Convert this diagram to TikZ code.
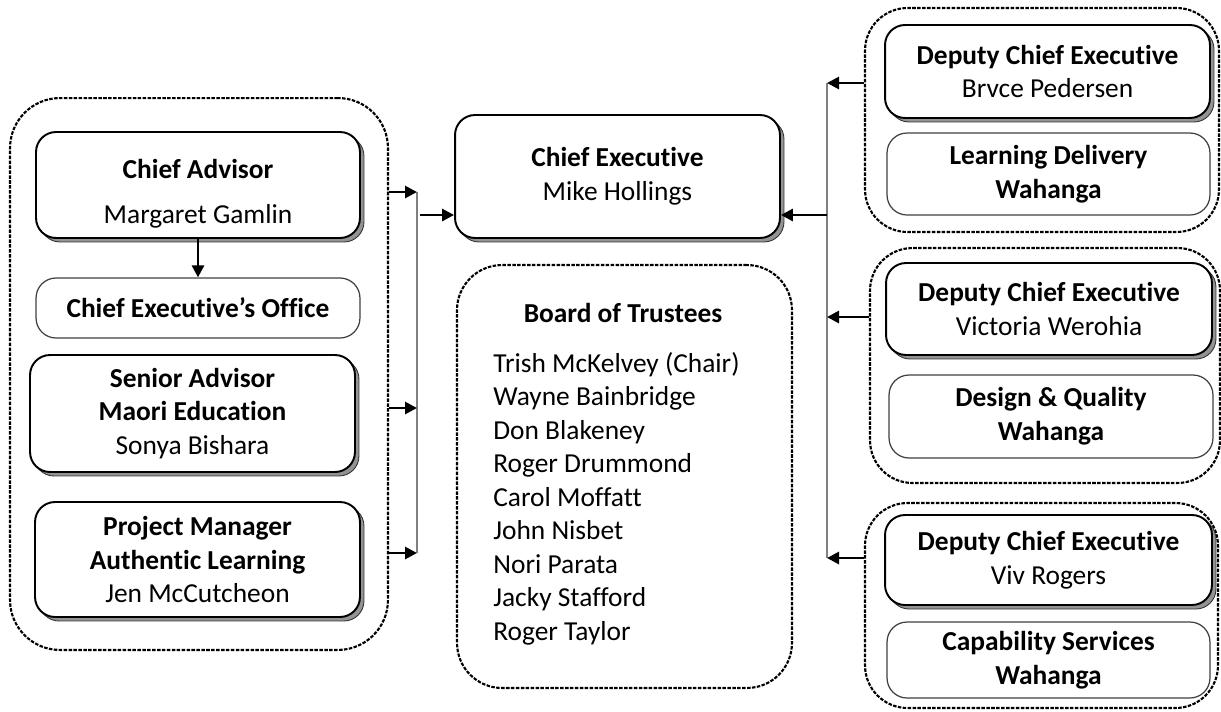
\documentclass[tikz,border=0pt]{standalone}
\usepackage{fontspec}
\setmainfont{Carlito}[Ligatures={TeX,NoCommon}]
\usepackage{tikz}
\usetikzlibrary{arrows.meta}
\usetikzlibrary{shadows}

\begin{document}
\begin{tikzpicture}[x=0.02cm, y=-0.02cm,
  every node/.style={font=\fontsize{15.6}{19.3}\selectfont},
  grp/.style={draw, dash pattern=on 2pt off 0.8pt, line width=1.2pt, rounded corners=0.85cm},
  box/.style={draw, line width=1.1pt, rounded corners=0.4cm, fill=white, align=center, inner sep=0pt,
    drop shadow={shadow xshift=0.08cm, shadow yshift=-0.08cm, fill=gray!85, draw=black!80, line width=0.5pt, opacity=1}},
  unit/.style={draw=black!75, line width=0.7pt, rounded corners=0.4cm, fill=white, align=center, inner sep=0pt},
  arr/.style={-{Triangle[length=2.4mm,width=2.4mm]}, line width=1.6pt},
  bus/.style={draw=gray, line width=1.1pt}]

\useasboundingbox (0,0) rectangle (1221,711);

% dashed groups
\node[grp, minimum width=7.56cm, minimum height=11.04cm, rounded corners=1cm] (advgrp) at (199,374) {};
\node[grp, minimum width=6.7cm, minimum height=8.46cm, rounded corners=0.9cm] (board) at (624.5,476.5) {};
\node[grp, minimum width=7.08cm, minimum height=4.48cm] (dcegrpA) at (1042,120) {};
\node[grp, minimum width=7cm, minimum height=4.7cm] (dcegrpB) at (1045,365.5) {};
\node[grp, minimum width=7.06cm, minimum height=4.1cm] (dcegrpC) at (1041.5,605.5) {};

% left side
\node[box, minimum width=6.48cm, minimum height=2.12cm] (advisor) at (198,185)%
{\rule{0pt}{21pt}\textbf{Chief Advisor}\\[6pt] Margaret Gamlin};
\node[unit, minimum width=6.48cm, minimum height=1.2cm] (office) at (198,308)%
{\textbf{Chief Executive’s Office}};
\node[box, minimum width=6.5cm, minimum height=2.34cm] (senior) at (192.5,413.5)%
{\textbf{Senior Advisor}\\ \textbf{Maori Education}\\ Sonya Bishara};
\node[box, minimum width=6.5cm, minimum height=2.3cm] (projmgr) at (197.5,559.5)%
{\textbf{Project Manager}\\ \textbf{Authentic Learning}\\ Jen McCutcheon};

\draw[arr] (advisor.south) -- (office.north);

% centre
\node[box, minimum width=6.5cm, minimum height=2.46cm] (ceo) at (617.5,176.5)%
{\textbf{Chief Executive}\\ Mike Hollings};

\node[anchor=base] (bttl) at (623,322) {\textbf{Board of Trustees}};
\foreach \Name [count=\i] in {Trish McKelvey (Chair), Wayne Bainbridge, Don Blakeney,
    Roger Drummond, Carol Moffatt, John Nisbet, Nori Parata, Jacky Stafford, Roger Taylor}{
    \node[anchor=base west, inner sep=0pt] (bt\i) at (493,{372+33.5*(\i-1)}) {\Name};
}

% right side
\node[box, minimum width=6.5cm, minimum height=1.86cm] (dceA) at (1047.5,71.5)%
{\textbf{Deputy Chief Executive}\\ Brvce Pedersen};
\node[unit, minimum width=6.46cm, minimum height=1.64cm] (wahA) at (1048.5,174)%
{\textbf{Learning Delivery}\\ \textbf{Wahanga}};
\node[box, minimum width=6.52cm, minimum height=1.84cm] (dceB) at (1049,309)%
{\textbf{Deputy Chief Executive}\\ Victoria Werohia};
\node[unit, minimum width=6.48cm, minimum height=1.66cm] (wahB) at (1051,416.5)%
{\textbf{Design \& Quality}\\ \textbf{Wahanga}};
\node[box, minimum width=6.54cm, minimum height=1.8cm] (dceC) at (1048.5,560)%
{\textbf{Deputy Chief Executive}\\ Viv Rogers};
\node[unit, minimum width=6.46cm, minimum height=1.52cm] (wahC) at (1048.5,660)%
{\textbf{Capability Services}\\ \textbf{Wahanga}};

% left bus
\coordinate (lbA) at (417,192);
\coordinate (lbB) at (417,408);
\coordinate (lbC) at (417,553);
\coordinate (lbOut) at (420,215);
\draw[bus] (lbA) -- (lbC);
\foreach \Pt in {lbA,lbB,lbC}{
    \draw[arr] (advgrp.east |- \Pt) -- (\Pt);
}
\draw[arr] (lbOut) -- (ceo.west |- lbOut);

% right bus
\coordinate (rbA) at (827,83);
\coordinate (rbB) at (827,317);
\coordinate (rbC) at (827,558);
\coordinate (rbOut) at (827,215);
\draw[bus] (rbA) -- (rbC);
\foreach \Pt/\Grp in {rbA/dcegrpA,rbB/dcegrpB,rbC/dcegrpC}{
    \draw[arr] (\Grp.west |- \Pt) -- (\Pt);
}
\draw[arr] (rbOut) -- (ceo.east |- rbOut);

\end{tikzpicture}
\end{document}
